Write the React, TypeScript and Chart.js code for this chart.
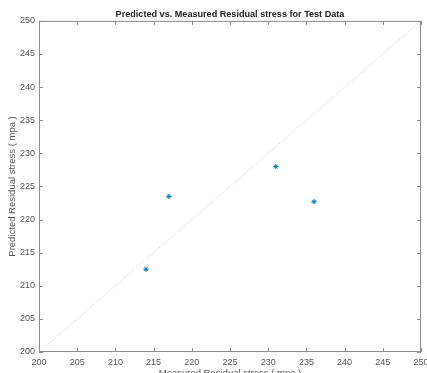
import React, { useEffect, useRef } from "react";
import { Chart, registerables } from "chart.js";

Chart.register(...registerables);

const titleText = "Predicted vs. Measured Residual stress for Test Data";
const xTitle = "Measured Residual stress ( mpa )";
const yTitle = "Predicted Residual stress ( mpa )";

const measured = [214, 217, 231, 236];
const predicted = [212.5, 223.5, 228, 222.7];
const idealLine = [200, 250];
const axisMin = 200;
const axisMax = 250;
const axisStep = 5;

const framePlugin = {
  id: "frame",
  afterDatasetsDraw(chart: any) {
    const { ctx, chartArea: a, scales } = chart;
    const xs = scales.x;
    const ys = scales.y;
    ctx.save();
    ctx.strokeStyle = "#8c8c8c";
    ctx.lineWidth = 1;
    ctx.strokeRect(a.left + 0.5, a.top + 0.5, a.right - a.left - 1, a.bottom - a.top - 1);
    ctx.beginPath();
    xs.ticks.forEach((_t: any, i: number) => {
      const p = Math.round(xs.getPixelForTick(i)) + 0.5;
      ctx.moveTo(p, a.bottom);
      ctx.lineTo(p, a.bottom - 4);
      ctx.moveTo(p, a.top);
      ctx.lineTo(p, a.top + 4);
    });
    ys.ticks.forEach((_t: any, i: number) => {
      const p = Math.round(ys.getPixelForTick(i)) + 0.5;
      ctx.moveTo(a.left, p);
      ctx.lineTo(a.left + 4, p);
      ctx.moveTo(a.right, p);
      ctx.lineTo(a.right - 4, p);
    });
    ctx.stroke();
    ctx.restore();
  },
};

export default function App() {
  const ref = useRef<HTMLCanvasElement>(null);
  useEffect(() => {
    if (!ref.current) return;
    const chart = new Chart(ref.current, {
      type: "scatter",
      data: {
        datasets: [
          {
            type: "line",
            data: idealLine.map((v) => ({ x: v, y: v })),
            borderColor: "rgba(200,170,170,0.7)",
            borderWidth: 1,
            borderDash: [1, 2],
            pointRadius: 0,
            fill: false,
          } as any,
          {
            data: measured.map((m, i) => ({ x: m, y: predicted[i] })),
            pointStyle: "star",
            pointRadius: 2.6,
            borderColor: "#0072BD",
            backgroundColor: "#0072BD",
            borderWidth: 1,
          },
        ],
      },
      options: {
        animation: false,
        responsive: false,
        devicePixelRatio: 1,
        layout: { padding: { left: 0, right: 6, top: 0, bottom: 0 } },
        plugins: {
          legend: { display: false },
          tooltip: { enabled: false },
          title: {
            display: true,
            text: titleText,
            fullSize: false,
            color: "#222",
            font: { family: "Liberation Sans, Arial, sans-serif", size: 9.1, weight: "bold", lineHeight: 1 },
            padding: { top: 9.8, bottom: 2 },
          },
        },
        scales: {
          x: {
            type: "linear",
            min: axisMin,
            max: axisMax,
            grid: { display: false, drawTicks: false },
            border: { display: false },
            ticks: {
              stepSize: axisStep,
              color: "#555",
              padding: 5,
              maxRotation: 0,
              font: { family: "Liberation Sans, Arial, sans-serif", size: 9 },
            },
            title: {
              display: true,
              text: xTitle,
              color: "#555",
              font: { family: "Liberation Sans, Arial, sans-serif", size: 9.5 },
              padding: { top: 0, bottom: -6 },
            },
            afterFit: (s: any) => {
              s.height = 21;
              s.paddingLeft = 0;
              s.paddingRight = 0;
            },
          },
          y: {
            type: "linear",
            min: axisMin,
            max: axisMax,
            grid: { display: false, drawTicks: false },
            border: { display: false },
            ticks: {
              stepSize: axisStep,
              color: "#555",
              padding: 4,
              font: { family: "Liberation Sans, Arial, sans-serif", size: 9 },
            },
            title: {
              display: true,
              text: yTitle,
              color: "#555",
              font: { family: "Liberation Sans, Arial, sans-serif", size: 9.5 },
              padding: { top: 7, bottom: 0 },
            },
            afterFit: (s: any) => {
              s.width = 39;
            },
          },
        },
      },
      plugins: [framePlugin],
    });
    return () => chart.destroy();
  }, []);
  return (
    <div style={{ position: "fixed", left: 0, top: 0, width: 427, height: 373, background: "#fff" }}>
      <canvas ref={ref} width={427} height={373} style={{ display: "block" }} />
    </div>
  );
}
